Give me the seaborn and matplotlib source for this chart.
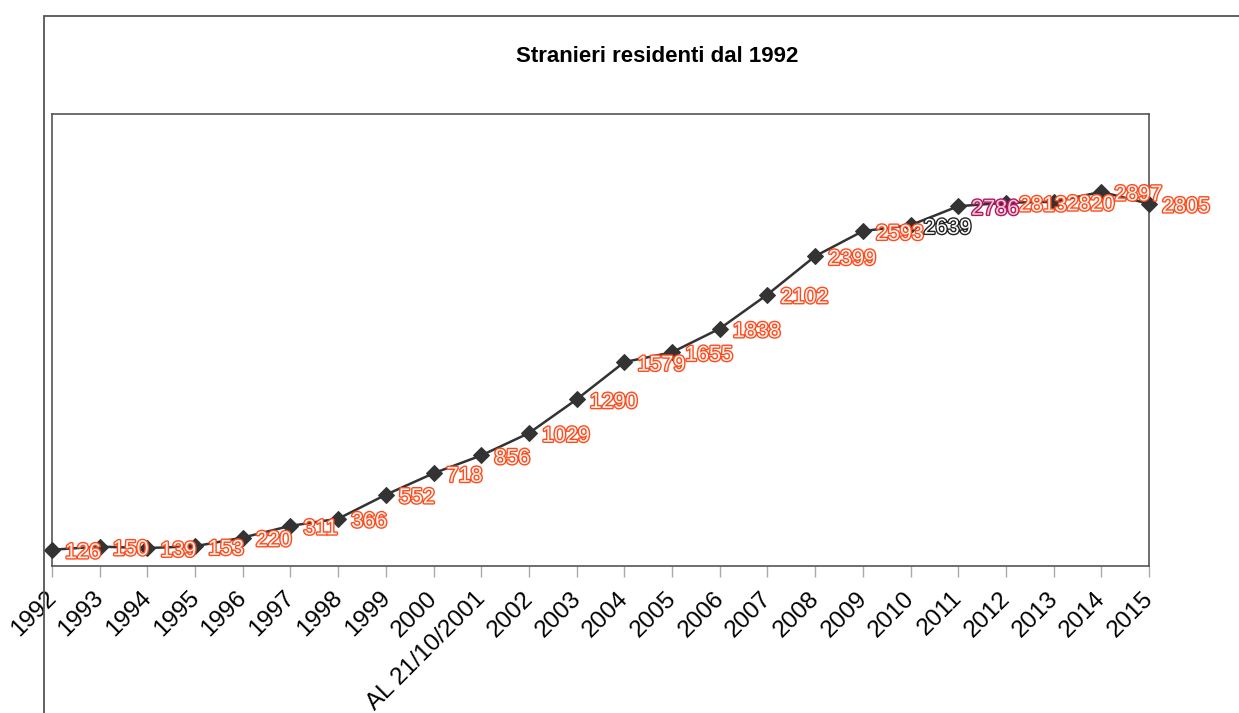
import matplotlib
matplotlib.use("Agg")
import matplotlib.pyplot as plt
import matplotlib.patheffects as pe
from matplotlib.patches import Rectangle
from matplotlib.transforms import ScaledTranslation
import seaborn as sns
import pandas as pd

years = ["1992", "1993", "1994", "1995", "1996", "1997", "1998", "1999", "2000",
         "AL 21/10/2001", "2002", "2003", "2004", "2005", "2006", "2007", "2008",
         "2009", "2010", "2011", "2012", "2013", "2014", "2015"]
residents = [126, 150, 139, 153, 220, 311, 366, 552, 718, 856, 1029, 1290, 1579,
             1655, 1838, 2102, 2399, 2593, 2639, 2786, 2813, 2820, 2897, 2805]
label_stroke = ["#ff4a1c"] * 18 + ["#222222", "#b0185e"] + ["#ff4a1c"] * 4
label_fill = ["#fff4f0"] * 18 + ["#ffffff", "#f6cade"] + ["#fff4f0"] * 4
title = "Stranieri residenti dal 1992"

sns.set_theme(style="white")
plt.rcParams["font.family"] = ["Liberation Sans", "DejaVu Sans"]

df = pd.DataFrame({"x": list(range(len(years))), "y": residents})

fig = plt.figure(figsize=(12.39, 7.13), dpi=100)
fig.patch.set_facecolor("white")
# outer chart frame
fig.add_artist(Rectangle((44 / 1239, -0.5), 2.0, 0.5 + 1 - 16 / 713,
                         transform=fig.transFigure, fill=False,
                         edgecolor="#555555", linewidth=1.3))

ax = fig.add_axes([52 / 1239, 1 - 566 / 713, (1149 - 52) / 1239, (566 - 114) / 713])
sns.lineplot(data=df, x="x", y="y", ax=ax, color="#333333", linewidth=1.8,
             marker="D", markersize=8, markeredgecolor="#333333", sort=False)
for ln in ax.lines:
    ln.set_clip_on(False)
    ln.set_zorder(3)

ax.set_xlim(0, len(years) - 1)
ax.set_ylim(0, 3500)
ax.set_xticks(range(len(years)))
ax.set_xticklabels(years, rotation=45, ha="right", rotation_mode="anchor",
                   fontsize=17.5, color="black")
ax.set_yticks([])
ax.set_xlabel("")
ax.set_ylabel("")
ax.tick_params(axis="x", direction="out", length=8, width=1, color="#aaaaaa",
               bottom=True, pad=3)
shift = ScaledTranslation(-0.07, -0.06, fig.dpi_scale_trans)
for lab in ax.get_xticklabels():
    lab.set_transform(lab.get_transform() + shift)
for s in ax.spines.values():
    s.set_color("#555555")
    s.set_linewidth(1.2)

for i, v in enumerate(residents):
    t = ax.annotate(str(v), (i, v), xytext=(13, -3), textcoords="offset pixels",
                    ha="left", va="center", fontsize=15.5, color=label_fill[i],
                    annotation_clip=False, zorder=4)
    t.set_path_effects([pe.Stroke(linewidth=2.0, foreground=label_stroke[i]),
                        pe.Normal()])

fig.text(657 / 1239, 1 - 57 / 713, title, ha="center", va="center",
         fontsize=16, fontweight="bold", color="black")

fig.savefig("out.png", dpi=100)
